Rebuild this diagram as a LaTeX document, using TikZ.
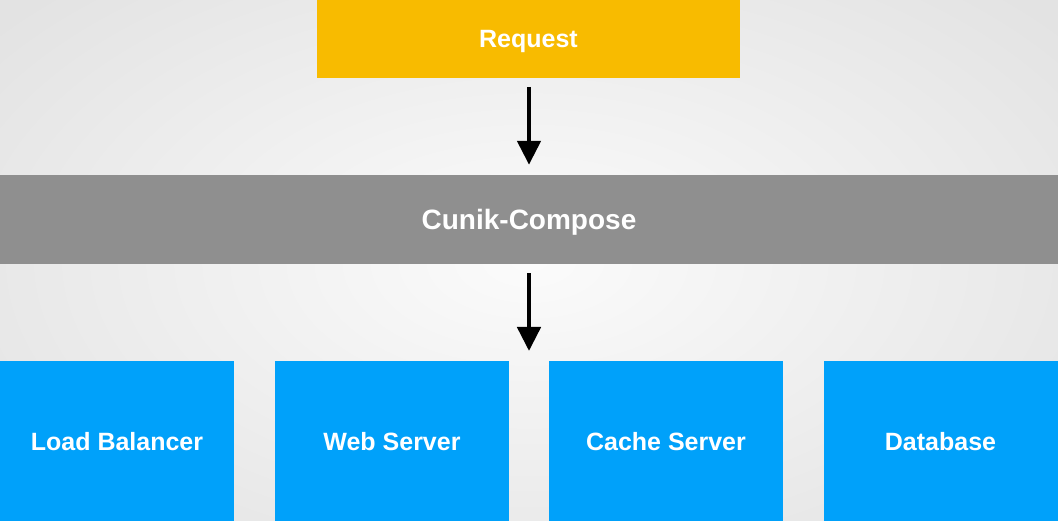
\documentclass[tikz,border=0pt]{standalone}
\usepackage{fontspec}
\setmainfont{Liberation Sans}
\usepackage{tikz}
\usetikzlibrary{arrows.meta,positioning}

\definecolor{reqorange}{RGB}{248,187,0}
\definecolor{composegray}{RGB}{143,143,143}
\definecolor{tierblue}{RGB}{0,161,250}

\begin{document}
\begin{tikzpicture}[
    x=1pt, y=-1pt,
    box/.style={rectangle, inner sep=0pt, text=white, text height=17.9pt, text depth=0pt, font=\fontsize{25}{30}\selectfont\bfseries},
    request/.style={box, fill=reqorange, minimum width=423pt, minimum height=78pt},
    compose/.style={box, fill=composegray, minimum width=1058pt, minimum height=89pt, text height=20pt, font=\fontsize{28}{34}\selectfont\bfseries},
    tier/.style={box, fill=tierblue, minimum width=234pt, minimum height=161pt},
    arrow/.style={-{Triangle[width=23pt, length=24pt]}, line width=4.7pt, shorten <=9pt, shorten >=10pt}
]
\useasboundingbox (0,0) rectangle (1058,521);
% Background
\shade[inner color=gray!3, outer color=gray!22] (-150,-120) rectangle (1208,641);

% Request
\node[request] (R) at (528.5,39) {Request};
\coordinate (RS) at (529,78);

% Compose layer
\node[compose] (C) at (529,219.5) {Cunik-Compose};
\coordinate (T) at (529,361);

% Services
\node[tier] (LB) at (117,441.5) {Load Balancer};
\node[tier] (WS) at (392,441.5) {Web Server};
\node[tier] (CS) at (666,441.5) {Cache Server};
\node[tier] (DB) at (940.5,441.5) {Database};

% Edges
\draw[arrow] (RS) -- (C.north);
\draw[arrow] (C.south) -- (T);
\end{tikzpicture}
\end{document}
